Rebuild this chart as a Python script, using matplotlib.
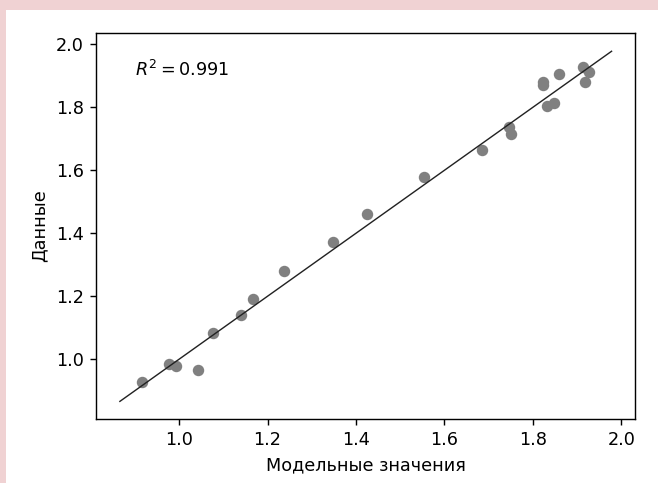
import matplotlib
matplotlib.use("Agg")
import matplotlib.pyplot as plt
from matplotlib.patches import Rectangle

model_values = [0.917, 0.977, 0.994, 1.042, 1.077, 1.139, 1.167, 1.237, 1.347, 1.424,
                1.554, 1.685, 1.745, 1.750, 1.822, 1.824, 1.833, 1.848, 1.859, 1.913,
                1.919, 1.926]
data_values = [0.926, 0.985, 0.977, 0.965, 1.084, 1.140, 1.192, 1.281, 1.373, 1.461,
               1.580, 1.663, 1.738, 1.715, 1.880, 1.871, 1.804, 1.813, 1.905, 1.928,
               1.879, 1.913]
line_range = [0.866, 1.978]
r2_text = r"$R^2 = 0.991$"
x_label = "Модельные значения"
y_label = "Данные"

W, H = 658, 483
DPI = 127
fig = plt.figure(figsize=(W / DPI, H / DPI), dpi=DPI)
fig.patch.set_facecolor("#f0d2d3")
fig.patches.append(Rectangle((6 / W, 0), 1 - 6 / W, 1 - 10 / H, transform=fig.transFigure,
                             facecolor="white", edgecolor="none", zorder=-10))

ax = fig.add_axes([96 / W, 1 - 418.7 / H, (635 - 96) / W, (418.7 - 33) / H])
ax.scatter(model_values, data_values, s=30, color="#808080", zorder=2)
ax.plot(line_range, line_range, color="#222222", lw=0.8, zorder=3)
ax.set_xlim(0.812, 2.031)
ax.set_ylim(0.811, 2.036)
ax.set_xticks([1.0, 1.2, 1.4, 1.6, 1.8, 2.0])
ax.set_yticks([1.0, 1.2, 1.4, 1.6, 1.8, 2.0])
ax.set_xlabel(x_label, fontsize=10)
ax.set_ylabel(y_label, fontsize=10)
ax.tick_params(labelsize=10)
ax.text(0.072, 0.903, r2_text, transform=ax.transAxes, ha="left", va="center", fontsize=10)

fig.savefig("out.png", dpi=DPI, facecolor=fig.get_facecolor())
